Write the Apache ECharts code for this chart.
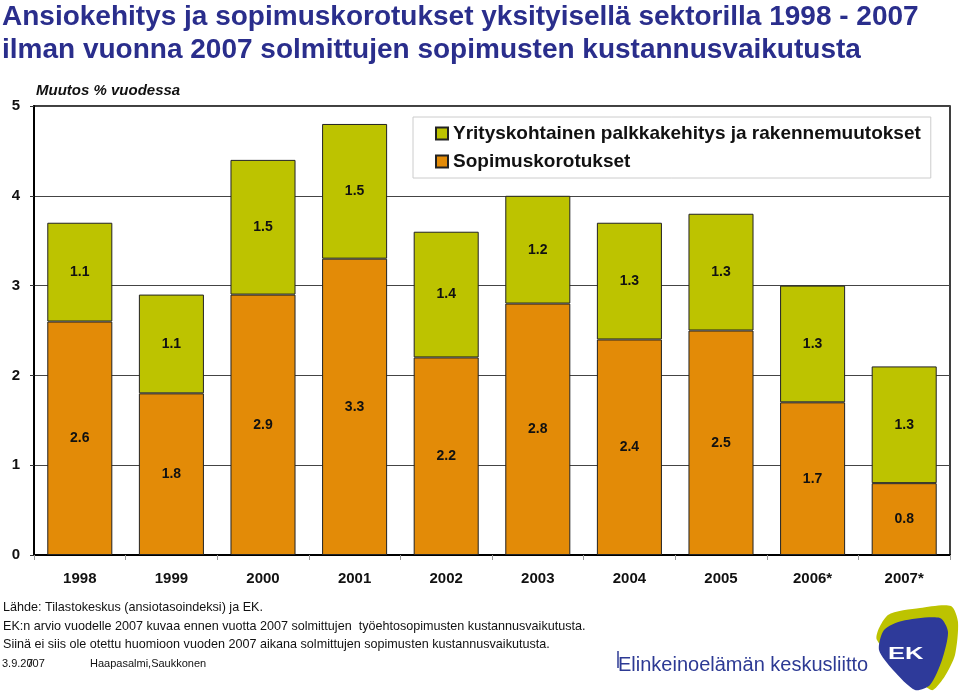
<!DOCTYPE html>
<html><head><meta charset="utf-8">
<script src="https://cdn.jsdelivr.net/npm/echarts@6/dist/echarts.min.js"></script>
<style>html,body{margin:0;padding:0;background:#fff}#c{width:960px;height:691px}</style>
</head><body><div id="c"></div>
<script>
const categories = ['1998','1999','2000','2001','2002','2003','2004','2005','2006*','2007*'];
const sopimuskorotukset = [2.6, 1.8, 2.9, 3.3, 2.2, 2.8, 2.4, 2.5, 1.7, 0.8];
const yrityskohtainen = [1.1, 1.1, 1.5, 1.5, 1.4, 1.2, 1.3, 1.3, 1.3, 1.3];
const seriesNames = ['Yrityskohtainen palkkakehitys ja rakennemuutokset', 'Sopimuskorotukset'];
const titleLines = ['Ansiokehitys ja sopimuskorotukset yksityisellä sektorilla 1998 - 2007', 'ilman vuonna 2007 solmittujen sopimusten kustannusvaikutusta'];
const footLines = ['Lähde: Tilastokeskus (ansiotasoindeksi) ja EK.', 'EK:n arvio vuodelle 2007 kuvaa ennen vuotta 2007 solmittujen  työehtosopimusten kustannusvaikutusta.', 'Siinä ei siis ole otettu huomioon vuoden 2007 aikana solmittujen sopimusten kustannusvaikutusta.'];

const GREEN = '#BDC300', ORANGE = '#E38B07', BLUE = '#2a2e8c';
const FONT = 'Liberation Sans, Arial, sans-serif';
const chart = echarts.init(document.getElementById('c'));
const lbl = {show: true, position: 'inside', color: '#111', fontWeight: 'bold', fontSize: 14, fontFamily: FONT, formatter: p => p.value.toFixed(1)};
function txt(x, y, text, font, fill, extra) {
  return Object.assign({type: 'text', x: x, y: y, style: {text: text, font: font, fill: fill, textVerticalAlign: 'top'}}, extra || {});
}
chart.setOption({
  animation: false,
  textStyle: {fontFamily: FONT},
  grid: {left: 34, right: 10, top: 106, bottom: 136, show: true, borderColor: '#000', borderWidth: 1.5, backgroundColor: 'transparent'},
  legend: {
    orient: 'vertical', left: 413, top: 117, width: 529,
    padding: [7, 10, 7, 22], itemGap: 9,
    backgroundColor: '#fff', borderColor: '#ccc', borderWidth: 1,
    itemWidth: 12, itemHeight: 12, icon: 'rect',
    data: seriesNames,
    textStyle: {fontSize: 19, fontWeight: 'bold', color: '#111', fontFamily: FONT}
  },
  xAxis: {
    type: 'category', data: categories,
    axisLine: {lineStyle: {color: '#000', width: 2}},
    axisTick: {show: true, length: 5, lineStyle: {color: '#999'}},
    axisLabel: {color: '#111', fontWeight: 'bold', fontSize: 15, margin: 16, fontFamily: FONT}
  },
  yAxis: {
    type: 'value', min: 0, max: 5, interval: 1,
    axisLine: {show: true, lineStyle: {color: '#000', width: 2}},
    axisTick: {show: true, length: 4, lineStyle: {color: '#333'}},
    splitLine: {lineStyle: {color: '#444', width: 1}},
    axisLabel: {color: '#111', fontWeight: 'bold', fontSize: 15, margin: 14, fontFamily: FONT}
  },
  series: [
    {name: seriesNames[1], type: 'bar', stack: 'a', data: sopimuskorotukset, barCategoryGap: '29%',
     itemStyle: {color: ORANGE, borderColor: '#222', borderWidth: 1}, label: lbl},
    {name: seriesNames[0], type: 'bar', stack: 'a', data: yrityskohtainen,
     itemStyle: {color: GREEN, borderColor: '#222', borderWidth: 1}, label: lbl}
  ],
  graphic: [
    txt(2, 3, titleLines[0], 'bold 28px ' + FONT, BLUE),
    txt(2, 36, titleLines[1], 'bold 28px ' + FONT, BLUE),
    txt(36, 83, 'Muutos % vuodessa', 'italic bold 15px ' + FONT, '#111'),
    txt(3, 601, footLines[0], '12.6px ' + FONT, '#111'),
    txt(3, 620, footLines[1], '12.6px ' + FONT, '#111'),
    txt(3, 638, footLines[2], '12.6px ' + FONT, '#111'),
    txt(2, 658, '3.9.2007', '11px ' + FONT, '#111'),
    txt(27, 658, '7', '11px ' + FONT, '#111'),
    txt(90, 658, 'Haapasalmi,Saukkonen', '11px ' + FONT, '#111'),
    txt(618, 655, 'Elinkeinoelämän keskusliitto', '20px ' + FONT, '#2d3a94'),
    {type: 'line', shape: {x1: 618, y1: 651, x2: 618, y2: 668}, style: {stroke: '#2d3a94', lineWidth: 1.5}},
    {type: 'polygon', shape: {smooth: 0.25, points: [[877,640],[888,615],[920,608],[951,606],[958,622],[955,655],[945,676],[933,690],[925,686]]}, style: {fill: GREEN}},
    {type: 'polygon', shape: {smooth: 0.25, points: [[879,650],[884,630],[902,621],[940,618],[948,632],[942,660],[930,685],[915,690],[893,670]]}, style: {fill: '#2e3a9a'}},
    txt(888, 646, 'EK', 'bold 17px ' + FONT, '#fff', {scaleX: 1.5})
  ]
});
</script></body></html>
